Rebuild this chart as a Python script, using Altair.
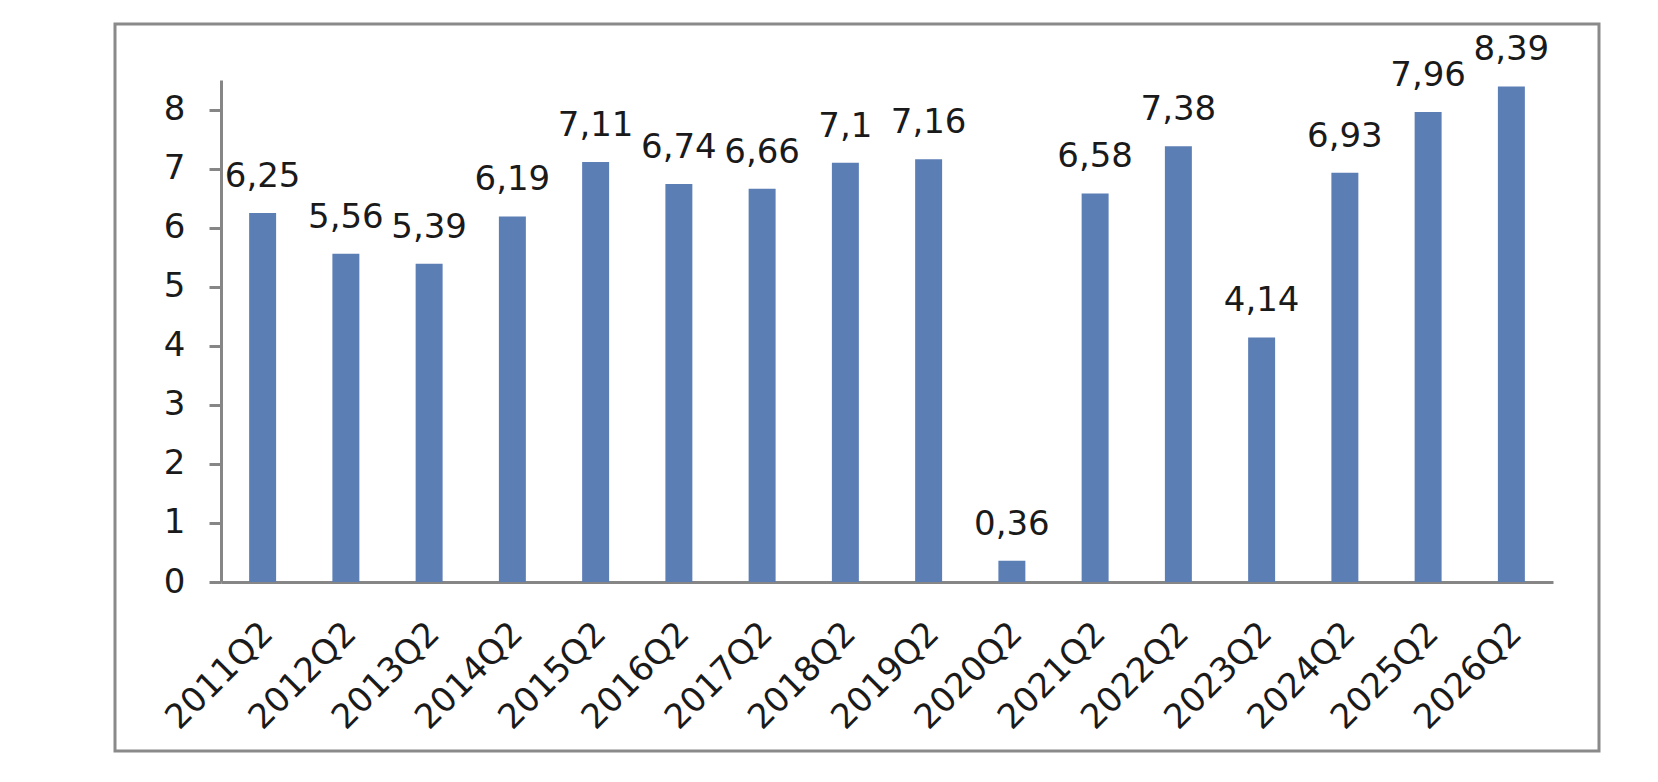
import altair as alt
import pandas as pd

# Quarterly values (Q2 of each year)
quarters = ["2011Q2", "2012Q2", "2013Q2", "2014Q2", "2015Q2", "2016Q2", "2017Q2", "2018Q2",
            "2019Q2", "2020Q2", "2021Q2", "2022Q2", "2023Q2", "2024Q2", "2025Q2", "2026Q2"]
values = [6.25, 5.56, 5.39, 6.19, 7.11, 6.74, 6.66, 7.1,
          7.16, 0.36, 6.58, 7.38, 4.14, 6.93, 7.96, 8.39]
y_ticks = [0, 1, 2, 3, 4, 5, 6, 7, 8]

df = pd.DataFrame({"quarter": quarters, "value": values})
# decimal comma labels built from the plotted values
df["label"] = [f"{v:g}".replace(".", ",") for v in values]

FONT = "DejaVu Sans"
AXIS_GRAY = "#868686"
TEXT = "#1a1a1a"
BAR = "#5B7EB5"

W, H = 1332, 502

x_enc = alt.X(
    "quarter:N",
    sort=quarters,
    title=None,
    scale=alt.Scale(paddingInner=0.676, paddingOuter=0.338),
    axis=alt.Axis(
        labelAngle=-45,
        labelAlign="right",
        labelBaseline="top",
        labelPadding=34,
        labelOffset=-7,
        labelFontSize=34,
        labelFont=FONT,
        labelColor=TEXT,
        ticks=False,
        tickSize=0,
        domainColor=AXIS_GRAY,
        domainWidth=3,
        labelOverlap=False,
        labelBound=False,
        labelFlush=False,
    ),
)
y_enc = alt.Y(
    "value:Q",
    title=None,
    scale=alt.Scale(domain=[0, 8.5], nice=False, zero=True),
    axis=alt.Axis(
        values=y_ticks,
        format="d",
        grid=False,
        tickSize=12,
        tickWidth=3,
        tickColor=AXIS_GRAY,
        domainColor=AXIS_GRAY,
        domainWidth=3,
        labelPadding=24,
        labelFontSize=34,
        labelFont=FONT,
        labelColor=TEXT,
        labelFlush=False,
    ),
)

bars = alt.Chart(df).mark_bar(color=BAR).encode(x=x_enc, y=y_enc)

labels = alt.Chart(df).mark_text(
    font=FONT, fontSize=34, color=TEXT, baseline="alphabetic", align="center", dy=-26
).encode(x=alt.X("quarter:N", sort=quarters), y="value:Q", text="label:N")

# outer border around the whole chart
frame = alt.Chart(pd.DataFrame({"k": [0]})).mark_rect(
    fill=None, fillOpacity=0, stroke="#8a8a8a", strokeWidth=3
).encode(
    x=alt.value(-106), x2=alt.value(1378), y=alt.value(-56), y2=alt.value(671)
)

chart = (
    alt.layer(bars, labels, frame)
    .properties(
        width=W,
        height=H,
        autosize=alt.AutoSizeParams(type="none"),
        padding={"left": 221, "top": 80, "right": 105, "bottom": 200},
        background="white",
    )
    .configure_view(strokeWidth=0)
)

chart.save("out.html", embed_options={"renderer": "svg", "actions": False})
